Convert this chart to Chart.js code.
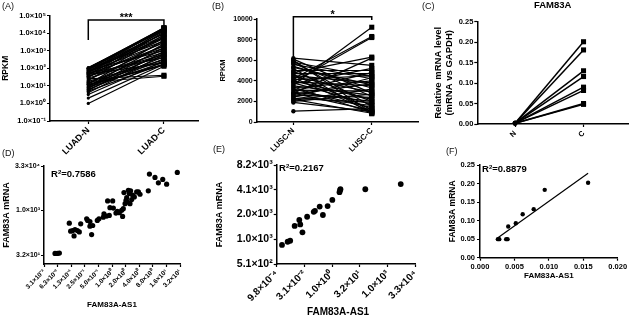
<!DOCTYPE html>
<html>
<head>
<meta charset="utf-8">
<script src="https://cdn.jsdelivr.net/npm/chart.js@4.4.1/dist/chart.umd.min.js"></script>
<style>
html, body { margin:0; padding:0; background:#fff; }
body { width:633px; height:318px; position:relative; overflow:hidden; font-family:'Liberation Sans', Arial, Helvetica, sans-serif; }
canvas { position:absolute; }
.pl { position:absolute; font-size:9px; line-height:10px; color:#111; white-space:nowrap; }
.r2 { position:absolute; font-size:9.5px; font-weight:bold; line-height:11px; color:#000; white-space:nowrap; }
.r2 sup { font-size:6px; line-height:0; vertical-align:0; position:relative; top:-3.5px; }
.ttl { position:absolute; font-weight:bold; color:#000; white-space:nowrap; text-align:center; }
</style>
</head>
<body>
<canvas id="cA"></canvas>
<canvas id="cB"></canvas>
<canvas id="cC"></canvas>
<canvas id="cD"></canvas>
<canvas id="cE"></canvas>
<canvas id="cF"></canvas>
<div class="pl" style="left:2px;top:1px">(A)</div>
<div class="pl" style="left:212px;top:1px">(B)</div>
<div class="pl" style="left:422px;top:1px">(C)</div>
<div class="pl" style="left:2px;top:148px">(D)</div>
<div class="pl" style="left:213px;top:144px">(E)</div>
<div class="pl" style="left:446px;top:146px">(F)</div>
<div class="r2" style="left:51px;top:168px">R<sup>2</sup>=0.7586</div>
<div class="r2" style="left:279px;top:162px">R<sup>2</sup>=0.2167</div>
<div class="r2" style="left:482px;top:163px">R<sup>2</sup>=0.8879</div>
<div class="ttl" style="left:288px;top:306px;width:100px;font-size:10px;line-height:12px">FAM83A-AS1</div>
<script>
const FONT = "'Liberation Sans', Arial, Helvetica, sans-serif";

// ---------- (A) LUAD paired RPKM ----------
const luadCats = ['LUAD-N', 'LUAD-C'];
const luadN = [1.0, 2.0, 3.2, 4.0, 5.0, 5.5, 6.3, 7.0, 8.0, 8.5, 9.0, 10, 11, 12, 12.5, 14, 15, 16, 18, 20, 22, 25, 28, 30, 33, 35, 36, 40, 44, 45, 48, 50, 52, 56, 60, 60, 65, 70, 70, 75, 80, 85, 90, 90, 95, 100, 100, 105, 110];
const luadC = [130, 170, 250, 600, 180, 900, 350, 1500, 220, 450, 2500, 700, 150, 160, 4000, 1200, 250, 35, 300, 8000, 2000, 40, 500, 12000, 3000, 600, 800, 15000, 1800, 200, 5000, 1400, 400, 10000, 2800, 13000, 18000, 6000, 5500, 1000, 20000, 7000, 3500, 17000, 16000, 9000, 20000, 19000, 14000];
const luadYTicks = [0.1, 1, 10, 100, 1000, 10000, 100000];
const luadYLabels = ['1.0×10⁻¹', '1.0×10⁰', '1.0×10¹', '1.0×10²', '1.0×10³', '1.0×10⁴', '1.0×10⁵'];
const luadSig = [4000, 55000, 23000];

// ---------- (B) LUSC paired RPKM ----------
const luscCats = ['LUSC-N', 'LUSC-C'];
const luscN = [1050, 3600, 4200, 3900, 4800, 2800, 6200, 6000, 5900, 5700, 5600, 5400, 5200, 5000, 4900, 4700, 4600, 4500, 4400, 4300, 4100, 4000, 3900, 3800, 3700, 3500, 3400, 3300, 3200, 3100, 3000, 2900, 2800, 2700, 2600, 2500, 2400, 2300, 2200, 2100, 2000, 1900, 5800, 5300, 6100];
const luscC = [1300, 9200, 8300, 8200, 6300, 6200, 5500, 900, 1500, 2500, 4200, 3300, 800, 5000, 2000, 4700, 1200, 3800, 2900, 1000, 4500, 2200, 3500, 1700, 5200, 2600, 900, 4000, 1400, 3000, 4800, 2000, 1100, 3700, 2400, 1600, 4300, 1900, 850, 3200, 2700, 1000, 4400, 3600, 2800];
const luscYTicks = [0, 2000, 4000, 6000, 8000, 10000];
const luscYLabels = ['0', '2000', '4000', '6000', '8000', '10000'];
const luscSig = [6340, 10220, 9900];

// ---------- (C) qPCR FAM83A ----------
const qpcrCats = ['N', 'C'];
const qpcrN = [0.002, 0.002, 0.002, 0.002, 0.002, 0.002, 0.002, 0.002];
const qpcrC = [0.201, 0.181, 0.130, 0.116, 0.090, 0.082, 0.050, 0.048];
const qpcrYTicks = [0, 0.05, 0.10, 0.15, 0.20, 0.25];
const qpcrYLabels = ['0.00', '0.05', '0.10', '0.15', '0.20', '0.25'];

// ---------- (D) LUAD correlation ----------
const dAS1 = [0.0548, 0.0617, 0.0684, 0.1134, 0.1216, 0.135, 0.1446, 0.1518, 0.171, 0.189, 0.203, 0.275, 0.289, 0.325, 0.325, 0.354, 0.374, 0.473, 0.514, 0.642, 0.664, 0.763, 0.80, 0.871, 0.901, 1.035, 1.072, 1.223, 1.31, 1.454, 1.636, 1.717, 1.778, 1.84, 1.945, 2.04, 2.114, 2.19, 2.30, 2.41, 2.50, 2.58, 2.73, 2.87, 3.12, 3.51, 3.84, 4.17, 6.36, 6.73, 8.94, 10.63, 13.27, 16.2, 27.9];
const dMRNA = [36.5, 36.5, 37.5, 383, 205, 215, 142, 234, 215, 194, 365, 541, 474, 437, 304, 158, 320, 474, 541, 613, 798, 666, 2165, 699, 1278, 2165, 1243, 843, 962, 861, 1038, 648, 1184, 4153, 1746, 2273, 2798, 1992, 4973, 3848, 1746, 4737, 2402, 3373, 2957, 4359, 4359, 3640, 4737, 17440, 13490, 8840, 11500, 7970, 19900];
const dXTicks = [0.03125, 0.0625, 0.125, 0.25, 0.5, 1, 2, 4, 8, 16, 32];
const dXLabels = ['3.1×10⁻²', '6.3×10⁻²', '1.3×10⁻¹', '2.5×10⁻¹', '5.0×10⁻¹', '1.0×10⁰', '2.0×10⁰', '4.0×10⁰', '8.0×10⁰', '1.6×10¹', '3.2×10¹'];
const dYTicks = [32, 1024, 32768];
const dYLabels = ['3.2×10¹', '1.0×10³', '3.3×10⁴'];

// ---------- (E) LUSC correlation ----------
const eAS1 = [0.00189, 0.00383, 0.00526, 0.00918, 0.0164, 0.0185, 0.0243, 0.0436, 0.0994, 0.1158, 0.209, 0.312, 0.563, 1.014, 2.48, 2.69, 2.79, 62.2, 5184];
const eMRNA = [873, 955, 982, 1489, 1758, 1552, 1243, 1924, 2210, 2273, 2556, 2020, 2592, 3083, 3822, 4067, 4153, 4153, 4804];
const eXTicks = [0.0009765625, 0.03125, 1, 32, 1024, 32768];
const eXLabels = ['9.8×10⁻⁴', '3.1×10⁻²', '1.0×10⁰', '3.2×10¹', '1.0×10³', '3.3×10⁴'];
const eYTicks = [512, 1024, 2048, 4096, 8192];
const eYLabels = ['5.1×10²', '1.0×10³', '2.0×10³', '4.1×10³', '8.2×10³'];

// ---------- (F) qPCR correlation ----------
const fAS1 = [0.0026, 0.0028, 0.0038, 0.0040, 0.0041, 0.0052, 0.0062, 0.0078, 0.0094, 0.0157];
const fMRNA = [0.050, 0.050, 0.050, 0.050, 0.084, 0.093, 0.117, 0.131, 0.183, 0.202];
const fFitX = [0.0026, 0.0157];
const fFitY = [0.054, 0.228];
const fXTicks = [0, 0.005, 0.010, 0.015, 0.020];
const fXLabels = ['0.000', '0.005', '0.010', '0.015', '0.020'];
const fYTicks = [0, 0.05, 0.10, 0.15, 0.20, 0.25];
const fYLabels = ['0.00', '0.05', '0.10', '0.15', '0.20', '0.25'];

// ---------- helpers ----------
function axis(c) {
  return {
    type: c.type || 'linear', position: c.pos, min: c.min, max: c.max, bounds: 'data',
    afterBuildTicks: s => { s.ticks = c.ticks.map(v => ({ value: v })); },
    afterFit: s => { if (c.pos === 'left') s.width = c.fit; else s.height = c.fit; },
    grid: { display: true, drawOnChartArea: false, drawTicks: true, tickLength: c.tl || 3, tickWidth: 1.2, tickColor: '#000' },
    border: { display: true, color: '#000', width: 1.5 },
    ticks: {
      color: '#000', autoSkip: false, padding: (c.tp === undefined ? 1 : c.tp),
      minRotation: c.rot || 0, maxRotation: c.rot || 0,
      font: { family: FONT, size: c.fs, weight: 'bold' },
      callback: (v, i) => c.labels[i]
    },
    title: c.title ? { display: true, text: c.title, color: '#000', padding: c.tpad,
      font: { family: FONT, size: c.tfs, weight: 'bold', lineHeight: c.tlh || 1.2 } } : { display: false }
  };
}

function panel(id, box, area, cfg) {
  const cv = document.getElementById(id);
  cv.width = box.w; cv.height = box.h;
  cv.style.left = box.left + 'px'; cv.style.top = box.top + 'px';
  cv.style.width = box.w + 'px'; cv.style.height = box.h + 'px';
  const yW = area.left - box.left;
  const xH = box.top + box.h - area.bottom;
  const padding = { left: 0, right: box.left + box.w - area.right, top: area.top - box.top - (cfg.titleH || 0), bottom: 0 };
  return new Chart(cv, {
    type: 'scatter',
    data: { datasets: cfg.datasets },
    options: {
      responsive: false, animation: false, devicePixelRatio: 1, events: [],
      layout: { padding },
      scales: {
        x: axis(Object.assign({ pos: 'bottom', fit: xH }, cfg.x)),
        y: axis(Object.assign({ pos: 'left', fit: yW }, cfg.y))
      },
      plugins: { legend: { display: false }, tooltip: { enabled: false }, title: cfg.title || { display: false } }
    },
    plugins: cfg.plugins || []
  });
}

function pairSets(nv, cv, rN, rC, lw) {
  return nv.map((n, i) => ({
    data: [{ x: 0, y: n }, { x: 1, y: cv[i] }],
    showLine: true, borderColor: '#000', borderWidth: lw, backgroundColor: '#000',
    pointStyle: ['circle', 'rect'], pointRadius: [rN, rC], pointBorderWidth: 0, pointHoverRadius: 0, clip: false
  }));
}

function scatterSet(xs, ys, r) {
  return { data: xs.map((x, i) => ({ x: x, y: ys[i] })), pointRadius: r, backgroundColor: '#000', pointBorderWidth: 0, clip: false };
}

function bracket(legs, text, fs) {
  return {
    id: 'bracket',
    afterDatasetsDraw(chart) {
      const { ctx, scales: { x, y } } = chart;
      const x0 = x.getPixelForValue(0), x1 = x.getPixelForValue(1);
      const yl = y.getPixelForValue(legs[0]), yt = y.getPixelForValue(legs[1]), yr = y.getPixelForValue(legs[2]);
      ctx.save();
      ctx.strokeStyle = '#000'; ctx.lineWidth = 1.5;
      ctx.beginPath(); ctx.moveTo(x0, yl); ctx.lineTo(x0, yt); ctx.lineTo(x1, yt); ctx.lineTo(x1, yr); ctx.stroke();
      ctx.fillStyle = '#000'; ctx.font = 'bold ' + fs + 'px ' + FONT;
      ctx.textAlign = 'center'; ctx.textBaseline = 'alphabetic';
      ctx.fillText(text, (x0 + x1) / 2, yt + 1);
      ctx.restore();
    }
  };
}

// ---------- (A) ----------
panel('cA', { left: 0, top: 0, w: 205, h: 155 }, { left: 50, right: 198, top: 15.5, bottom: 121 }, {
  datasets: pairSets(luadN, luadC, 1.6, 3.6, 1.2),
  x: { min: -0.506, max: 1.45, ticks: [0, 1], labels: luadCats, fs: 9, rot: 45, tp: 1 },
  y: { type: 'logarithmic', min: 0.1, max: 100000, ticks: luadYTicks, labels: luadYLabels, fs: 7.5,
       title: 'RPKM', tfs: 8.5, tpad: { top: 1, bottom: 0 } },
  plugins: [bracket(luadSig, '***', 11)]
});

// ---------- (B) ----------
panel('cB', { left: 210, top: 0, w: 215, h: 155 }, { left: 256.7, right: 418, top: 19, bottom: 122 }, {
  datasets: pairSets(luscN, luscC, 2.2, 3.6, 1.2),
  x: { min: -0.468, max: 1.59, ticks: [0, 1], labels: luscCats, fs: 8, rot: 45, tp: 1 },
  y: { min: 0, max: 10000, ticks: luscYTicks, labels: luscYLabels, fs: 7,
       title: 'RPKM', tfs: 7.5, tpad: { top: 8, bottom: 0 } },
  plugins: [bracket(luscSig, '*', 11)]
});

// ---------- (C) ----------
panel('cC', { left: 420, top: 0, w: 213, h: 155 }, { left: 477.3, right: 628, top: 21.7, bottom: 124 }, {
  titleH: 21.7,
  title: { display: true, text: 'FAM83A', fullSize: false, color: '#000',
           font: { family: FONT, size: 9.5, weight: 'bold', lineHeight: 1.2 }, padding: { top: 0, bottom: 10.3 } },
  datasets: pairSets(qpcrN, qpcrC, 2.4, 3.6, 1.5),
  x: { min: -0.552, max: 1.65, ticks: [0, 1], labels: qpcrCats, fs: 7.5, rot: 45, tp: 2 },
  y: { min: 0, max: 0.25, ticks: qpcrYTicks, labels: qpcrYLabels, fs: 7.5,
       title: ['Relative mRNA level', '(mRNA vs GAPDH)'], tfs: 9.5, tlh: 1.25, tpad: { top: 12, bottom: 0 } }
});

// ---------- (D) ----------
panel('cD', { left: 0, top: 150, w: 205, h: 168 }, { left: 44, right: 180, top: 166, bottom: 264 }, {
  datasets: [scatterSet(dAS1, dMRNA, 2.6)],
  x: { type: 'logarithmic', min: 0.03125, max: 32, ticks: dXTicks, labels: dXLabels, fs: 6.5, rot: 45, tp: 1,
       title: 'FAM83A-AS1', tfs: 8, tpad: { top: 0, bottom: 8.2 } },
  y: { type: 'logarithmic', min: 16, max: 32768, ticks: dYTicks, labels: dYLabels, fs: 7,
       title: 'FAM83A mRNA', tfs: 9, tpad: { top: 1.6, bottom: 0 } }
});

// ---------- (E) ----------
panel('cE', { left: 210, top: 150, w: 215, h: 168 }, { left: 276.7, right: 424, top: 165, bottom: 264 }, {
  datasets: [scatterSet(eAS1, eMRNA, 2.9)],
  x: { type: 'logarithmic', min: 0.0009765625, max: 32768, ticks: eXTicks, labels: eXLabels, fs: 10, rot: 45, tp: 1 },
  y: { type: 'logarithmic', min: 512, max: 8192, ticks: eYTicks, labels: eYLabels, fs: 10.5,
       title: 'FAM83A mRNA', tfs: 9, tpad: { top: 4.6, bottom: 0 } }
});

// ---------- (F) ----------
panel('cF', { left: 420, top: 150, w: 213, h: 168 }, { left: 480, right: 617.7, top: 165, bottom: 257.7 }, {
  datasets: [
    scatterSet(fAS1, fMRNA, 2.2),
    { data: fFitX.map((x, i) => ({ x: x, y: fFitY[i] })), showLine: true, pointRadius: 0, borderColor: '#000', borderWidth: 1.2, clip: false }
  ],
  x: { min: 0, max: 0.02, ticks: fXTicks, labels: fXLabels, fs: 7.5, tp: 2,
       title: 'FAM83A-AS1', tfs: 8, tpad: { top: 0, bottom: 37 } },
  y: { min: 0, max: 0.25, ticks: fYTicks, labels: fYLabels, fs: 7.5, tp: 2,
       title: 'FAM83A mRNA', tfs: 8.5, tpad: { top: 27.9, bottom: 0 } }
});
</script>
</body>
</html>
